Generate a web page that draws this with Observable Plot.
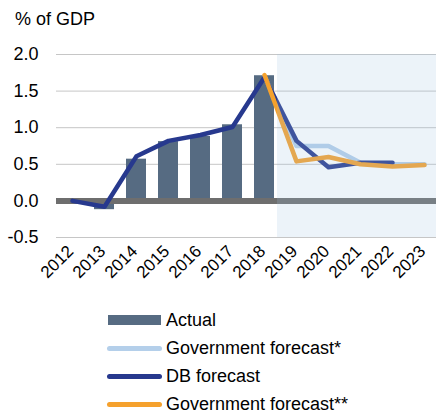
<!DOCTYPE html>
<html><head><meta charset="utf-8">
<script src="https://cdn.jsdelivr.net/npm/d3@7"></script>
<script src="https://cdn.jsdelivr.net/npm/@observablehq/plot@0.6"></script>
<style>
html,body{margin:0;padding:0;background:#fff;overflow:hidden;width:436px;height:413px}
body{font-family:"Liberation Sans",Arial,sans-serif;color:#000}
#title{font-size:18px;line-height:20px;height:20px;padding-left:15px;margin-top:9px}
#chart svg{display:block}
#legend{margin-top:15px}
.row{display:flex;align-items:center;height:28px;padding-left:107px;font-size:18px}
.sw{width:55px;display:flex;align-items:center;justify-content:center;margin-right:4px}
.sw span{display:block}
</style></head><body>
<div id="title">% of GDP</div>
<div id="chart"></div>
<div id="legend"></div>
<script>
// ---- data ----
const years = ["2012","2013","2014","2015","2016","2017","2018","2019","2020","2021","2022","2023"];
const actualYears = ["2012","2013","2014","2015","2016","2017","2018"];
const actualValues = [0.0, -0.12, 0.57, 0.81, 0.88, 1.04, 1.71];
const govForecastYears = ["2018","2019","2020","2021","2022","2023"];
const govForecastValues = [1.70, 0.75, 0.75, 0.52, 0.50, 0.50];
const dbForecastYears = ["2012","2013","2014","2015","2016","2017","2018","2019","2020","2021","2022"];
const dbForecastValues = [0.0, -0.08, 0.61, 0.82, 0.90, 1.01, 1.69, 0.82, 0.46, 0.52, 0.52];
const govForecast2Years = ["2018","2019","2020","2021","2022","2023"];
const govForecast2Values = [1.72, 0.54, 0.60, 0.50, 0.47, 0.49];
const shadedYears = ["2019","2020","2021","2022","2023"];
const yTicks = [-0.5, 0.0, 0.5, 1.0, 1.5, 2.0];
const yDomain = [-0.5, 2.0];
const seriesNames = ["Actual","Government forecast*","DB forecast","Government forecast**"];
const colors = {bar:"#566b82", gov:"#b4cfea", db:"#27398e", gov2:"#f5a12d"};

const zip = (ys, vs) => ys.map((y, i) => ({year: y, value: vs[i]}));
const actualData = zip(actualYears, actualValues);
const govData = zip(govForecastYears, govForecastValues);
const dbData = zip(dbForecastYears, dbForecastValues);
const gov2Data = zip(govForecast2Years, govForecast2Values);

const plot = Plot.plot({
  width: 436, height: 262,
  marginTop: 25, marginBottom: 54, marginLeft: 56, marginRight: 0,
  style: {fontFamily: "'Liberation Sans', Arial, sans-serif", fontSize: "18px", color: "#000", background: "transparent"},
  x: {domain: years, range: [56, 440], paddingInner: 0.375, paddingOuter: 0.1875, align: 0.5, round: false, label: null},
  y: {domain: yDomain, label: null},
  marks: [
    Plot.ruleY(yTicks.filter(t => t !== 0), {stroke: "#c6c6c6", strokeWidth: 1}),
    Plot.barY(actualData, {x: "year", y: "value", fill: colors.bar}),
    Plot.ruleY([0], {stroke: "#6e6e6e", strokeWidth: 6}),
    Plot.line(govData, {x: "year", y: "value", stroke: colors.gov, strokeWidth: 4.5}),
    Plot.line(dbData, {x: "year", y: "value", stroke: colors.db, strokeWidth: 4.5}),
    Plot.line(gov2Data, {x: "year", y: "value", stroke: colors.gov2, strokeWidth: 4.5}),
    Plot.barY(shadedYears, {x: d => d, y1: yDomain[0], y2: yDomain[1], fill: "#9fc5e0", fillOpacity: 0.2, insetLeft: -9, insetRight: -3}),
    Plot.axisY({ticks: yTicks, tickSize: 0, tickPadding: 18, tickFormat: d => d.toFixed(1)}),
    Plot.axisX({tickRotate: -45, tickSize: 0, tickPadding: 11, fontSize: 17, dx: -2})
  ]
});
document.getElementById("chart").appendChild(plot);

const legend = document.getElementById("legend");
const swatches = [
  `<span style="width:53px;height:10px;background:${colors.bar}"></span>`,
  `<span style="width:55px;height:5px;border-radius:3px;background:${colors.gov}"></span>`,
  `<span style="width:55px;height:5px;border-radius:3px;background:${colors.db}"></span>`,
  `<span style="width:55px;height:5px;border-radius:3px;background:${colors.gov2}"></span>`
];
seriesNames.forEach((name, i) => {
  const row = document.createElement("div");
  row.className = "row";
  row.innerHTML = `<div class="sw">${swatches[i]}</div><div>${name}</div>`;
  legend.appendChild(row);
});
</script>
</body></html>
